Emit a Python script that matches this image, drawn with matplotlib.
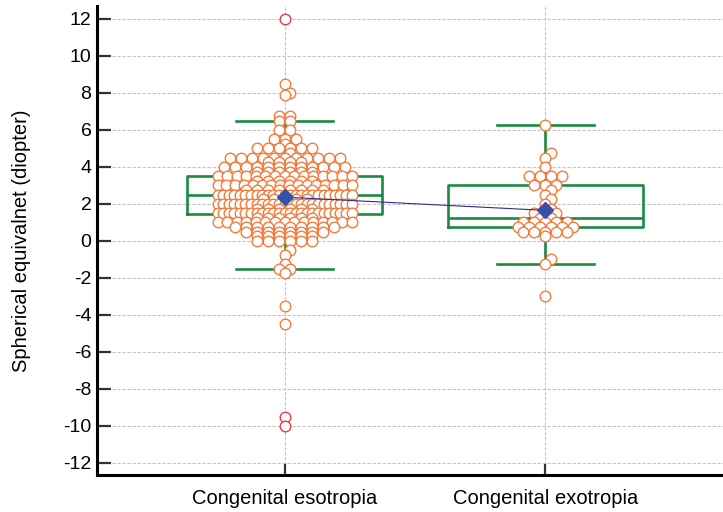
import numpy as np
import matplotlib
matplotlib.use("Agg")
import matplotlib.pyplot as plt

plt.rcParams['font.family'] = ['Liberation Sans', 'DejaVu Sans']
plt.rcParams['axes.unicode_minus'] = False

# values (diopter) and how many eyes had each value
eso_values = [12, 8.5, 8.0, 7.875, 6.75, 6.5, 6.0, 5.5, 5.25, 5.0, 4.75, 4.5,
              4.25, 4.0, 3.75, 3.5, 3.25, 3.0, 2.75, 2.5, 2.25, 2.0, 1.75,
              1.5, 1.25, 1.0, 0.75, 0.5, 0.25, 0.0, -0.5, -0.75, -1.25,
              -1.5, -1.75, -3.5, -4.5, -9.5, -10]
eso_counts = [1, 1, 1, 1, 2, 2, 2, 3, 1, 6, 1, 11,
              4, 12, 6, 15, 6, 16, 8, 25, 5, 25, 6,
              25, 6, 15, 10, 8, 6, 6, 1, 1, 1,
              2, 1, 1, 1, 1, 1]

exo_values = [6.25, 4.75, 4.5, 4.0, 3.5, 3.0, 2.75, 2.5, 2.25, 2.0, 1.75,
              1.5, 1.25, 1.0, 0.75, 0.5, 0.25, -1.0, -1.25, -3.0]
exo_counts = [1, 1, 1, 1, 4, 3, 1, 1, 1, 1, 1,
              3, 2, 5, 6, 5, 1, 1, 1, 1]

groups = ["Congenital esotropia", "Congenital exotropia"]
data = [np.repeat(eso_values, eso_counts), np.repeat(exo_values, exo_counts)]

GREEN = '#1b8a42'
ORANGE = '#f47b3e'
RED = '#ee3a45'

fig = plt.figure(figsize=(7.23, 5.12), dpi=100)
ax = fig.add_axes([97 / 723, 37 / 512, 626 / 723, 469 / 512])
ax.set_xlim(0.281, 2.681)
ax.set_ylim(-12.65, 12.7)

px_x = ax.bbox.width / (2.681 - 0.281)


def box_stats(vals):
    q1, med, q3 = np.percentile(vals, [25, 50, 75], method='weibull')
    iqr = q3 - q1
    lo = vals[vals >= q1 - 1.5 * iqr].min()
    hi = vals[vals <= q3 + 1.5 * iqr].max()
    return dict(med=med, q1=q1, q3=q3, whislo=lo, whishi=hi,
                mean=vals.mean(), fliers=[]), iqr


def dot_offsets(vals, step=11.0, half_w=67.0):
    """x offsets in pixels: equal values side by side"""
    offs = np.zeros(len(vals))
    uniq, cnt = np.unique(vals, return_counts=True)
    placed = {}
    for u, c in zip(uniq, cnt):
        idx = np.where(vals == u)[0]
        if c == 1:
            # single dot: avoid sitting right on a neighbouring row's dot
            near = [x for v, xs in placed.items() if abs(v - u) < 0.3
                    for x in xs]
            pos = 0.0
            for cand in [0.0, step / 2, -step / 2, step, -step]:
                if all(abs(cand - x) > 2 for x in near):
                    pos = cand
                    break
            row = [pos]
        else:
            sp = min(step, 2 * half_w / (c - 1))
            row = [(i - (c - 1) / 2) * sp for i in range(c)]
        offs[idx] = row
        placed[u] = row
    return offs


means = []
for i, vals in enumerate(data):
    pos = i + 1
    st, iqr = box_stats(vals)
    means.append(st['mean'])
    ax.bxp([st], positions=[pos], widths=0.75, capwidths=0.37,
           showfliers=False, manage_ticks=False,
           boxprops=dict(color=GREEN, lw=1.9),
           whiskerprops=dict(color=GREEN, lw=1.9),
           capprops=dict(color=GREEN, lw=1.9),
           medianprops=dict(color=GREEN, lw=1.9), zorder=2)
    xs = pos + dot_offsets(vals) / px_x
    far = (vals > st['q3'] + 3 * iqr) | (vals < st['q1'] - 3 * iqr)
    ax.scatter(xs[~far], vals[~far], s=58, facecolors='white',
               edgecolors=ORANGE, linewidths=1.0, zorder=3)
    ax.scatter(xs[far], vals[far], s=58, facecolors='white',
               edgecolors=RED, linewidths=1.0, zorder=3)

ax.plot([1, 2], means, color='#2e2e96', lw=0.8, zorder=4)
ax.plot([1, 2], means, ls='none', marker='D', ms=8, color='#3552a8', zorder=5)

ax.set_yticks(np.arange(-12, 13, 2))
ax.set_xticks([1, 2])
ax.set_xticklabels(groups)
ax.grid(True, color='#c4c4c4', ls=(0, (3, 1.5)), lw=0.8)
ax.set_axisbelow(True)
for side in ['top', 'right']:
    ax.spines[side].set_visible(False)
for side in ['left', 'bottom']:
    ax.spines[side].set_linewidth(2.2)
ax.tick_params(axis='y', direction='in', length=10, width=1.6,
               color='#333333', labelsize=14, pad=4)
ax.tick_params(axis='x', direction='in', length=9, width=1.6,
               color='#333333', labelsize=14.5, pad=10)

fig.text(22 / 723, 0.53, "Spherical equivalnet (diopter)", rotation=90,
         ha='center', va='center', fontsize=14.5)

fig.savefig("out.png", dpi=100)
